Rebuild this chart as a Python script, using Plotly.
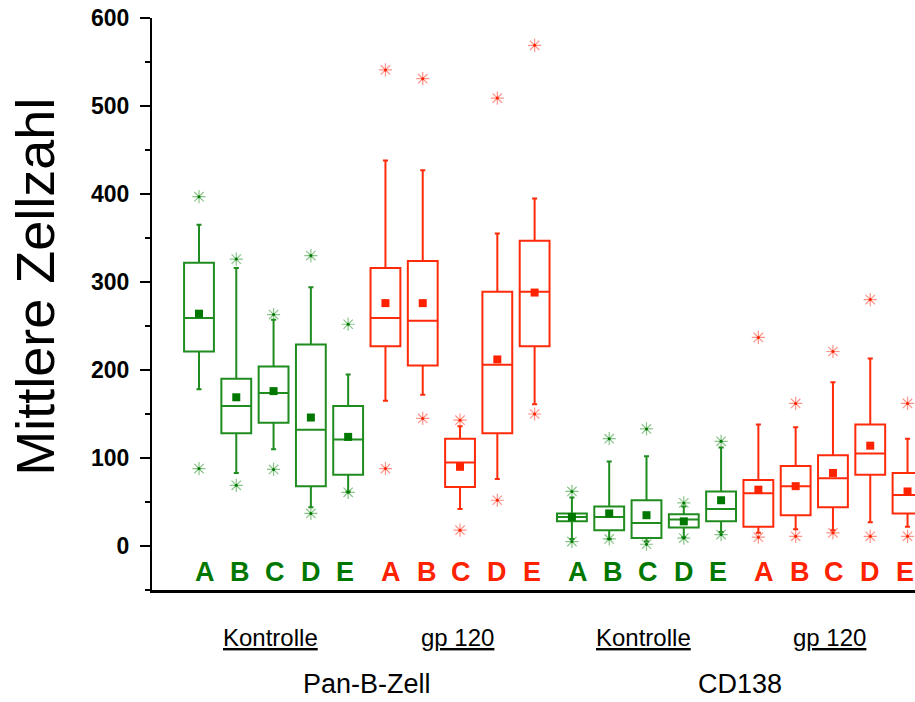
import plotly.graph_objects as go

# ---------------- data ----------------
letters = ["A", "B", "C", "D", "E"]
treatments = ["Kontrolle", "gp 120", "Kontrolle", "gp 120"]
cell_types = ["Pan-B-Zell", "CD138"]

# Pan-B-Zell, Kontrolle
pan_ctrl_q3 = [322, 190, 204, 229, 159]
pan_ctrl_med = [259, 159, 174, 132, 121]
pan_ctrl_q1 = [221, 128, 140, 68, 81]
pan_ctrl_hi = [365, 316, 257, 294, 195]
pan_ctrl_lo = [178, 83, 110, 44, 62]
pan_ctrl_mean = [264, 169, 176, 146, 124]
pan_ctrl_out_hi = [397, 326, 263, 330, 252]
pan_ctrl_out_lo = [88, 69, 87, 37, 61]

# Pan-B-Zell, gp 120
pan_gp_q3 = [316, 324, 122, 289, 347]
pan_gp_med = [259, 256, 95, 206, 289]
pan_gp_q1 = [227, 205, 67, 128, 227]
pan_gp_hi = [438, 427, 136, 355, 395]
pan_gp_lo = [165, 172, 42, 76, 161]
pan_gp_mean = [276, 276, 90, 212, 288]
pan_gp_out_hi = [541, 531, 143, 509, 569]
pan_gp_out_lo = [88, 145, 18, 52, 150]

# CD138, Kontrolle
cd_ctrl_q3 = [37, 45, 52, 36, 62]
cd_ctrl_med = [33, 33, 26, 30, 42]
cd_ctrl_q1 = [28, 18, 9, 21, 28]
cd_ctrl_hi = [55, 96, 102, 45, 112]
cd_ctrl_lo = [8, 8, 5, 10, 16]
cd_ctrl_mean = [33, 37, 35, 28, 52]
cd_ctrl_out_hi = [62, 122, 133, 49, 119]
cd_ctrl_out_lo = [5, 8, 2, 9, 13]

# CD138, gp 120
cd_gp_q3 = [75, 91, 103, 138, 83]
cd_gp_med = [60, 68, 77, 105, 58]
cd_gp_q1 = [22, 35, 44, 81, 37]
cd_gp_hi = [138, 135, 186, 213, 122]
cd_gp_lo = [15, 19, 18, 27, 22]
cd_gp_mean = [64, 68, 83, 114, 62]
cd_gp_out_hi = [237, 162, 221, 280, 162]
cd_gp_out_lo = [10, 11, 15, 11, 11]

# ---------------- styles ----------------
GREEN = "#1f8c1f"
GREEN_DARK = "#007800"
GREEN_STAR = "rgba(40,150,40,0.55)"
RED = "#ff2a0a"
RED_DARK = "#ff2200"
RED_STAR = "rgba(255,60,40,0.55)"
FONT = "Liberation Sans, Arial, sans-serif"

groups = [
    (pan_ctrl_q1, pan_ctrl_med, pan_ctrl_q3, pan_ctrl_lo, pan_ctrl_hi, pan_ctrl_mean,
     pan_ctrl_out_hi, pan_ctrl_out_lo, GREEN, GREEN_DARK, GREEN_STAR),
    (pan_gp_q1, pan_gp_med, pan_gp_q3, pan_gp_lo, pan_gp_hi, pan_gp_mean,
     pan_gp_out_hi, pan_gp_out_lo, RED, RED_DARK, RED_STAR),
    (cd_ctrl_q1, cd_ctrl_med, cd_ctrl_q3, cd_ctrl_lo, cd_ctrl_hi, cd_ctrl_mean,
     cd_ctrl_out_hi, cd_ctrl_out_lo, GREEN, GREEN_DARK, GREEN_STAR),
    (cd_gp_q1, cd_gp_med, cd_gp_q3, cd_gp_lo, cd_gp_hi, cd_gp_mean,
     cd_gp_out_hi, cd_gp_out_lo, RED, RED_DARK, RED_STAR),
]

letter_shift = [6, 4, 1, 0, -3]

fig = go.Figure()
annotations = []

for gi, (q1, med, q3, lo, hi, mean, ohi, olo, col, dark, star) in enumerate(groups):
    pos = [gi * 5 + i for i in range(5)]
    fig.add_trace(go.Box(
        x=pos, q1=q1, median=med, q3=q3, lowerfence=lo, upperfence=hi,
        boxpoints=False, width=0.8, whiskerwidth=0.17,
        line=dict(color=col, width=2), fillcolor="rgba(255,255,255,0)",
        hoverinfo="skip",
    ))
    fig.add_trace(go.Scatter(
        x=pos, y=mean, mode="markers",
        marker=dict(symbol="square", size=8, color=dark, line=dict(width=0)),
        hoverinfo="skip",
    ))
    fig.add_trace(go.Scatter(
        x=pos + pos, y=ohi + olo, mode="markers",
        marker=dict(symbol="asterisk-open", size=11, color=star, line=dict(width=1.2, color=star)),
        hoverinfo="skip",
    ))
    fig.add_trace(go.Scatter(
        x=pos + pos, y=ohi + olo, mode="markers",
        marker=dict(symbol="circle", size=3, color=dark, line=dict(width=0)),
        hoverinfo="skip",
    ))
    for i, p in enumerate(pos):
        annotations.append(dict(
            x=p, y=-30, xref="x", yref="y", text=letters[i], showarrow=False,
            xshift=letter_shift[i],
            font=dict(family=FONT, size=27, color=dark, weight="bold"),
        ))
    annotations.append(dict(
        x=gi * 5 + 2, y=0, xref="x", yref="paper", yanchor="middle",
        yshift=-47, xshift=-3, text="<u>" + treatments[gi] + "</u>", showarrow=False,
        font=dict(family=FONT, size=24, color="black"),
    ))

for ci, name in enumerate(cell_types):
    annotations.append(dict(
        x=ci * 10 + 4.5, y=0, xref="x", yref="paper", yanchor="middle",
        yshift=-94, text=name, showarrow=False,
        font=dict(family=FONT, size=27, color="black"),
    ))

annotations.append(dict(
    x=0, y=0.53, xref="paper", yref="paper", xanchor="center", yanchor="middle",
    xshift=-117, text="Mittlere Zellzahl", textangle=-90, showarrow=False,
    font=dict(family=FONT, size=54, color="black"),
))

fig.update_layout(
    width=915, height=702,
    margin=dict(l=152, r=0, t=18, b=112),
    plot_bgcolor="white", paper_bgcolor="white",
    showlegend=False,
    annotations=annotations,
    xaxis=dict(
        range=[-1.26, 19.2], showline=True, linecolor="black", linewidth=2.5,
        showticklabels=False, ticks="", showgrid=False, zeroline=False,
    ),
    yaxis=dict(
        range=[-50, 600], tickvals=[0, 100, 200, 300, 400, 500, 600],
        ticks="outside", ticklen=10, tickwidth=2, tickcolor="black",
        showline=True, linecolor="black", linewidth=2,
        showgrid=False, zeroline=False, ticklabelstandoff=6,
        tickfont=dict(family=FONT, size=23, color="black", weight="bold"),
        minor=dict(dtick=50, ticks="outside", ticklen=5, tickwidth=2, tickcolor="black", showgrid=False),
    ),
)

fig.write_html("out.html")
